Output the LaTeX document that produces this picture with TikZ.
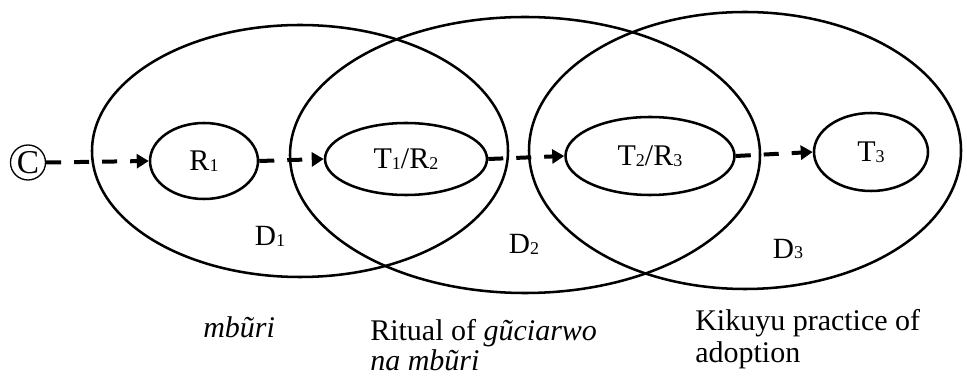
\documentclass[tikz,border=0pt]{standalone}
\usepackage{fontspec}
\setmainfont{Liberation Serif}
\usetikzlibrary{arrows.meta,shapes.geometric}
\newcommand\sbs[1]{\raisebox{-0.6pt}{\fontsize{13.5pt}{13.5pt}\selectfont #1}}
\begin{document}
\begin{tikzpicture}[x=0.75pt,y=-0.75pt,
  big/.style={line width=1.9pt},
  small/.style={draw, ellipse, line width=1.9pt, inner sep=0pt, font=\fontsize{22.5pt}{26pt}\selectfont},
  flow/.style={line width=3pt, dash pattern=on 11.25pt off 9.75pt, -{Triangle[length=9pt,width=10.5pt]}},
  lbl/.style={font=\fontsize{22.5pt}{26pt}\selectfont, inner sep=0pt},
  dlbl/.style={font=\fontsize{22pt}{26pt}\selectfont, inner sep=0pt},
  copyc/.style={draw, circle, line width=1pt, inner sep=0pt, minimum size=26.25pt, font=\fontsize{25pt}{26pt}\selectfont},
]
\useasboundingbox (0,0) rectangle (967,377);
% domains
\draw[big] (300,151) ellipse [x radius=208, y radius=126];
\draw[big] (525,155) ellipse [x radius=235, y radius=138];
\draw[big] (745,150.5) ellipse [x radius=216, y radius=138.5];
% nodes
\node[copyc] (cc) at (28,162.5) {C};
\node[small, minimum width=81pt, minimum height=57pt] (r1) at (204,161) {R\sbs{1}};
\node[small, minimum width=121.5pt, minimum height=54pt] (t1) at (406,159) {T\sbs{1}/R\sbs{2}};
\node[small, minimum width=126.75pt, minimum height=58.5pt] (t2) at (650,156) {T\sbs{2}/R\sbs{3}};
\node[small, minimum width=85.5pt, minimum height=58.5pt] (t3) at (871,152) {T\sbs{3}};
% flows
\draw[flow] (cc.east) -- (r1.west);
\draw[flow] (r1.east) -- (t1.west);
\draw[flow] (t1.east) -- (t2.west);
\draw[flow] (t2.east) -- (t3.west);
% domain labels
\node[dlbl] (d1) at (270,236) {D\sbs{1}};
\node[dlbl] (d2) at (524,244) {D\sbs{2}};
\node[dlbl] (d3) at (788,249) {D\sbs{3}};
% captions
\node[lbl, anchor=base west] (c1) at (203,338) {\itshape mbũri};
\node[lbl, anchor=base west] (c2a) at (370,341) {Ritual of \textit{gũciarwo}};
\node[lbl, anchor=base west] (c2b) at (370,371) {\itshape na mbũri};
\node[lbl, anchor=base west] (c3a) at (695,331) {Kikuyu practice of};
\node[lbl, anchor=base west] (c3b) at (695,363) {adoption};
\end{tikzpicture}
\end{document}
